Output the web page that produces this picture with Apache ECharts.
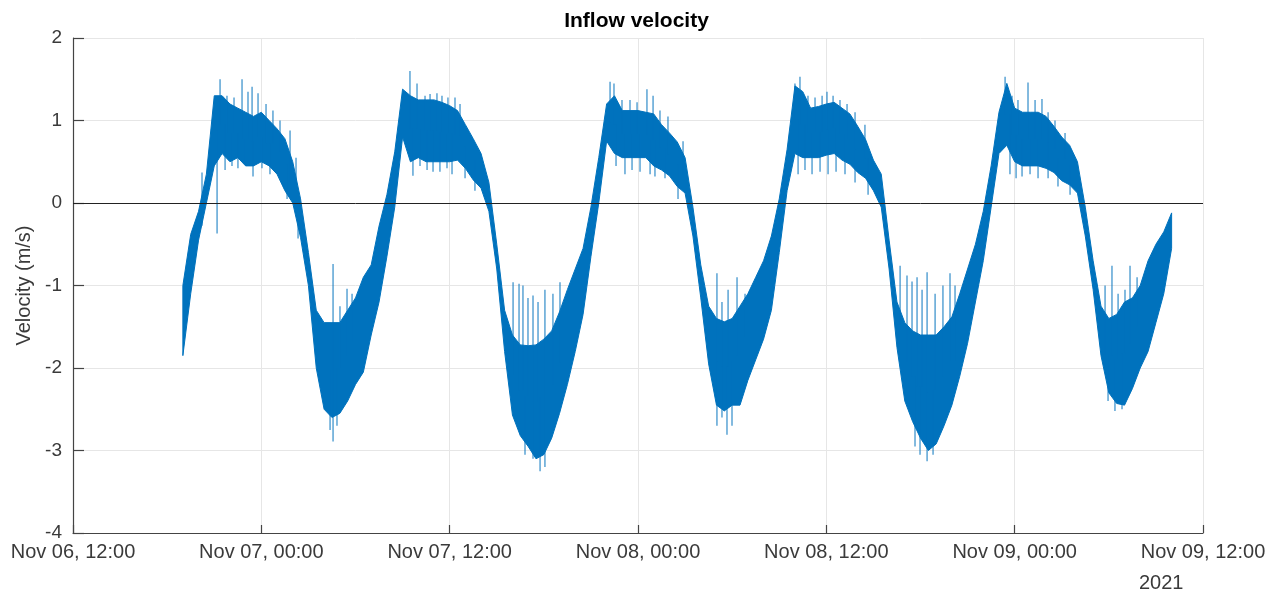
<!DOCTYPE html>
<html>
<head>
<meta charset="utf-8">
<script src="https://cdn.jsdelivr.net/npm/echarts@6/dist/echarts.min.js"></script>
<style>html,body{margin:0;padding:0;background:#fff}#c{width:1273px;height:594px}</style>
</head>
<body>
<div id="c"></div>
<script>
// ---- data ----
const startTime = '2021-11-06 19:00';   // first envelope sample
const stepMinutes = 30;                 // spacing of envelope samples
// upper edge of the velocity band (m/s), one value per step
const upper = [
 -1.00,-0.38,-0.10, 0.35, 1.30, 1.30, 1.20, 1.15, 1.10, 1.05, 1.10, 1.00, 0.90, 0.78, 0.50, 0.05,
 -0.60,-1.30,-1.45,-1.45,-1.45,-1.30,-1.15,-0.90,-0.75,-0.28, 0.10, 0.62, 1.38, 1.30, 1.25, 1.25,
  1.25, 1.22, 1.18, 1.12, 0.95, 0.78, 0.60, 0.25,-0.50,-1.30,-1.60,-1.72,-1.73,-1.72,-1.65,-1.55,
 -1.32,-1.05,-0.80,-0.55,-0.05, 0.55, 1.20, 1.30, 1.12, 1.12, 1.12, 1.10, 1.08, 0.95, 0.85, 0.74,
  0.55,-0.05,-0.75,-1.25,-1.40,-1.44,-1.40,-1.25,-1.10,-0.90,-0.70,-0.40, 0.05, 0.65, 1.42, 1.35,
  1.15, 1.17, 1.20, 1.22, 1.15, 1.08, 0.93, 0.77, 0.52, 0.35,-0.45,-1.20,-1.45,-1.55,-1.60,-1.60,
 -1.60,-1.50,-1.38,-1.10,-0.80,-0.50,-0.10, 0.45, 1.10, 1.45, 1.15, 1.10, 1.10, 1.10, 1.05, 0.93,
  0.80, 0.70, 0.50,-0.05,-0.70,-1.25,-1.40,-1.35,-1.20,-1.15,-1.00,-0.70,-0.50,-0.35,-0.12
];
// lower edge of the velocity band (m/s)
const lower = [
 -1.85,-1.10,-0.45, 0.00, 0.45, 0.60, 0.50, 0.55, 0.45, 0.45, 0.50, 0.45, 0.35, 0.15, 0.00,-0.42,
 -1.00,-2.00,-2.50,-2.60,-2.55,-2.40,-2.20,-2.05,-1.60,-1.20,-0.65,-0.05, 0.80, 0.50, 0.55, 0.50,
  0.50, 0.50, 0.50, 0.52, 0.42, 0.28, 0.18,-0.10,-0.80,-1.80,-2.57,-2.82,-2.95,-3.10,-3.05,-2.85,
 -2.55,-2.20,-1.80,-1.35,-0.65, 0.00, 0.75, 0.60, 0.55, 0.55, 0.55, 0.55, 0.45, 0.40, 0.33, 0.20,
  0.12,-0.40,-1.15,-1.95,-2.45,-2.52,-2.45,-2.45,-2.15,-1.90,-1.65,-1.30,-0.60, 0.15, 0.60, 0.55,
  0.55, 0.55, 0.58, 0.60, 0.52, 0.47, 0.37, 0.30, 0.15,-0.05,-0.80,-1.75,-2.40,-2.65,-2.85,-3.00,
 -2.92,-2.70,-2.45,-2.10,-1.70,-1.20,-0.70,-0.05, 0.60, 0.70, 0.50, 0.45, 0.45, 0.45, 0.42, 0.37,
  0.27, 0.22, 0.12,-0.40,-1.05,-1.85,-2.30,-2.43,-2.45,-2.25,-2.00,-1.80,-1.45,-1.10,-0.55
];
// isolated spikes sticking out of the band: hours after Nov 06 12:00, and tip value (m/s)
const spikeHours = [
  8.22, 9.18, 9.37, 9.81,10.26,10.77,11.15,11.41,11.79,12.30,12.74,13.19,13.83,14.21,
  9.69,10.13,10.51,10.96,11.47,12.04,12.55,13.64,14.34,
 16.57,17.01,17.46,17.78,16.38,16.57,16.82,
 21.47,21.92,22.43,22.75,23.19,23.51,23.89,24.34,24.66,
 21.66,22.11,22.56,22.94,23.38,23.83,24.15,24.98,25.61,
 28.04,28.42,28.67,28.99,29.31,29.63,30.07,30.58,31.03,
 28.80,29.31,29.76,30.07,
 34.22,34.47,34.98,35.49,35.94,36.57,36.96,37.40,37.91,38.87,
 34.60,35.17,35.62,36.13,36.77,37.08,37.72,38.55,
 41.03,41.35,41.74,42.31,42.82,41.03,41.35,41.67,41.99,
 46.00,46.32,46.83,47.28,47.73,48.04,48.43,48.87,49.32,49.83,50.46,
 46.20,46.64,47.09,47.60,48.11,48.62,49.19,49.83,50.66,
 52.70,53.14,53.46,53.78,54.10,54.42,54.93,55.43,55.88,56.20,
 53.65,53.97,54.42,54.80,
 59.39,59.83,60.21,60.85,61.30,61.74,62.13,62.57,63.21,
 59.70,60.09,60.47,60.98,61.49,62.13,62.76,63.53,
 65.76,66.20,66.59,67.03,67.35,67.80,65.95,66.39,66.84
];
const spikeTips = [
  0.37,-0.37, 1.50, 1.30, 1.28, 1.50, 1.35, 1.41, 1.33, 1.20, 1.12, 1.00, 0.88, 0.55,
  0.40, 0.45, 0.42, 0.48, 0.32, 0.42, 0.35, 0.05,-0.43,
 -0.74,-1.25,-1.04,-1.10,-2.75,-2.89,-2.70,
  1.60, 1.45, 1.30, 1.32, 1.33, 1.30, 1.28, 1.28, 1.20,
  0.33, 0.45, 0.40, 0.38, 0.38, 0.42, 0.35, 0.30, 0.15,
 -0.96,-0.98,-1.00,-1.15,-1.12,-1.20,-1.05,-1.10,-0.96,
 -3.05,-3.10,-3.25,-3.20,
  1.47, 1.45, 1.25, 1.25, 1.22, 1.38, 1.30, 1.12, 1.05, 0.75,
  0.45, 0.35, 0.40, 0.38, 0.35, 0.32, 0.30, 0.05,
 -0.85,-1.20,-1.05,-0.90,-1.10,-2.70,-2.60,-2.81,-2.70,
  1.45, 1.53, 1.30, 1.28, 1.30, 1.35, 1.30, 1.25, 1.20, 1.10, 0.95,
  0.35, 0.40, 0.35, 0.38, 0.35, 0.38, 0.35, 0.25, 0.10,
 -0.76,-0.88,-0.95,-0.90,-1.05,-0.84,-1.10,-1.00,-0.85,-1.00,
 -2.95,-3.05,-3.13,-3.05,
  1.53, 1.30, 1.25, 1.46, 1.25, 1.26, 1.10, 1.00, 0.85,
  0.35, 0.30, 0.32, 0.35, 0.30, 0.30, 0.20, 0.10,
 -1.00,-0.76,-1.10,-1.05,-0.76,-0.90,-2.40,-2.52,-2.50
];
const xStart = '2021-11-06 12:00';
const xEnd = '2021-11-09 12:00';
const yTicks = [-4, -3, -2, -1, 0, 1, 2];

// ---- helpers ----
function toMs(s) {
  return Date.UTC(+s.slice(0,4), +s.slice(5,7) - 1, +s.slice(8,10), +s.slice(11,13), +s.slice(14,16));
}
const MONTHS = ['Jan','Feb','Mar','Apr','May','Jun','Jul','Aug','Sep','Oct','Nov','Dec'];
function pad(n){ return (n < 10 ? '0' : '') + n; }
function fmt(ms) {
  const d = new Date(ms);
  return MONTHS[d.getUTCMonth()] + ' ' + pad(d.getUTCDate()) + ', ' + pad(d.getUTCHours()) + ':' + pad(d.getUTCMinutes());
}

const HOUR = 3600000;
const x0 = toMs(xStart);
const t0 = toMs(startTime);
const stepMs = stepMinutes * 60000;
const times = upper.map((_, i) => t0 + i * stepMs);
const bandData = times.map((t, i) => [t, lower[i], upper[i]]);
// each spike is drawn from the middle of the band at its nearest sample to its tip
const spikeData = spikeHours.map((h, i) => {
  const t = x0 + h * HOUR;
  let k = Math.round((t - t0) / stepMs);
  k = Math.max(0, Math.min(upper.length - 1, k));
  return [t, (upper[k] + lower[k]) / 2, spikeTips[i]];
});

const BLUE = '#0072BD';
const FONT = 'Liberation Sans, Arial, Helvetica, sans-serif';

const chart = echarts.init(document.getElementById('c'), null, {renderer: 'canvas'});
chart.setOption({
  animation: false,
  backgroundColor: '#fff',
  title: {
    text: 'Inflow velocity', left: 'center', top: 6,
    textStyle: {fontFamily: FONT, fontSize: 21, fontWeight: 'bold', color: '#000'}
  },
  grid: {left: 73, right: 70, top: 38, bottom: 61, containLabel: false},
  xAxis: {
    type: 'value',
    min: toMs(xStart), max: toMs(xEnd), interval: 12 * HOUR,
    axisLine: {show: true, onZero: false, lineStyle: {color: '#444', width: 1.2}},
    axisTick: {show: true, inside: true, length: 8, lineStyle: {color: '#444', width: 1.2}},
    axisLabel: {formatter: fmt, margin: 9, fontFamily: FONT, fontSize: 20, color: '#3a3a3a',
                showMinLabel: true, showMaxLabel: true},
    splitLine: {show: true, lineStyle: {color: '#e6e6e6', width: 1}}
  },
  yAxis: {
    type: 'value', min: yTicks[0], max: yTicks[yTicks.length - 1], interval: 1,
    name: 'Velocity (m/s)', nameLocation: 'middle', nameGap: 39, nameRotate: 90,
    nameTextStyle: {fontFamily: FONT, fontSize: 20, color: '#3a3a3a'},
    axisLine: {show: true, lineStyle: {color: '#444', width: 1.2}},
    axisTick: {show: true, inside: true, length: 11, lineStyle: {color: '#444', width: 1.2}},
    axisLabel: {margin: 11, fontFamily: FONT, fontSize: 19, color: '#3a3a3a'},
    splitLine: {show: true, lineStyle: {color: '#e6e6e6', width: 1}}
  },
  graphic: [{
    type: 'text', left: 1139, top: 573,
    style: {text: '2021', fontFamily: FONT, fontSize: 20, fill: '#3a3a3a'}
  }],
  series: [
    {
      type: 'custom', name: 'band', clip: true, z: 3,
      encode: {x: 0, y: [1, 2]},
      data: bandData,
      renderItem: function (params, api) {
        if (params.dataIndex !== 0) return null;
        const pts = [];
        for (let i = 0; i < bandData.length; i++) pts.push(api.coord([bandData[i][0], bandData[i][2]]));
        for (let i = bandData.length - 1; i >= 0; i--) pts.push(api.coord([bandData[i][0], bandData[i][1]]));
        return {type: 'polygon', shape: {points: pts},
                style: {fill: BLUE, stroke: BLUE, lineWidth: 1}};
      }
    },
    {
      type: 'custom', name: 'spikes', clip: true, z: 4,
      encode: {x: 0, y: [1, 2]},
      data: spikeData,
      renderItem: function (params, api) {
        const p1 = api.coord([api.value(0), api.value(1)]);
        const p2 = api.coord([api.value(0), api.value(2)]);
        return {type: 'line', shape: {x1: p1[0], y1: p1[1], x2: p2[0], y2: p2[1]},
                style: {stroke: 'rgba(0,114,189,0.65)', lineWidth: 1.5}};
      }
    },
    {
      type: 'line', name: 'zero', data: [], z: 10, silent: true,
      markLine: {silent: true, symbol: ['none', 'none'], label: {show: false},
                 lineStyle: {color: '#222', width: 1, type: 'solid'},
                 data: [{yAxis: 0}]}
    }
  ]
});
</script>
</body>
</html>
